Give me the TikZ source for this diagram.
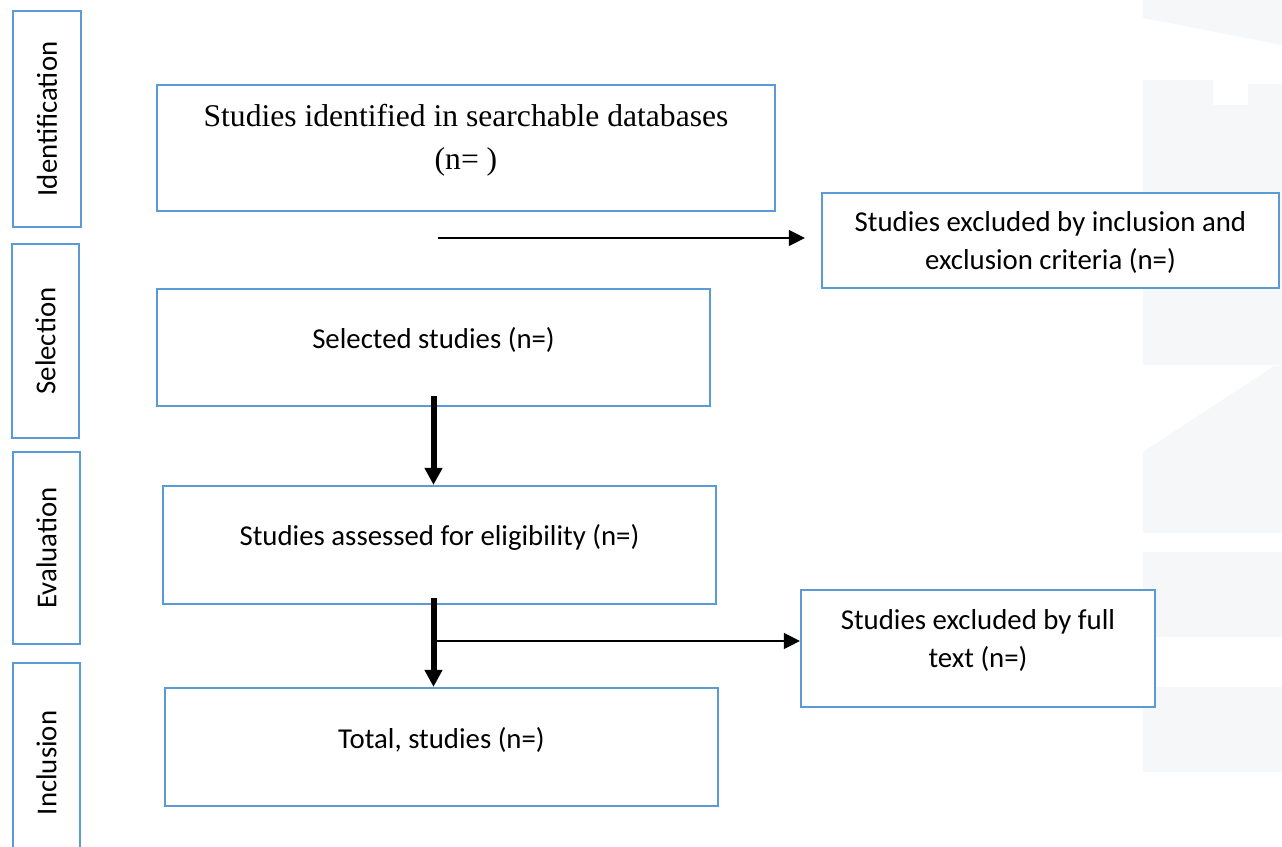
\documentclass[tikz,border=0pt]{standalone}
\usepackage{fontspec}
\setmainfont{Carlito}
\newfontfamily\seriffont{Liberation Serif}
\usepackage{tikz}
\usetikzlibrary{arrows.meta,calc,positioning}
\definecolor{boxblue}{RGB}{91,155,213}
\definecolor{wmark}{RGB}{246,247,249}
\tikzset{
  phasebox/.style={draw=boxblue,line width=1.1pt,fill=white,inner sep=0pt,
                   font=\fontsize{14.4}{19}\selectfont},
  stagebox/.style={draw=boxblue,line width=1.1pt,fill=white,inner sep=0pt},
  boxtext/.style={align=center,inner sep=0pt,font=\fontsize{14.4}{19}\selectfont},
  thinarrow/.style={line width=0.7pt,-{Triangle[length=8pt,width=8pt]}},
  thickarrow/.style={line width=3pt,-{Triangle[length=8.5pt,width=8.5pt]}},
}
\begin{document}
\begin{tikzpicture}[x=0.5pt,y=0.5pt]
%
  \useasboundingbox (0,0) rectangle (1282,847);
  \clip (0,0) rectangle (1282,847);
%
  \fill[wmark] (1143,847) -- (1282,847) -- (1282,802) -- (1143,829) -- cycle;
  \fill[wmark] (1143,767) -- (1213,767) -- (1213,742) -- (1248,742) -- (1248,763)
               -- (1282,763) -- (1282,482) -- (1143,482) -- cycle;
  \fill[wmark] (1143,395) -- (1274,481) -- (1282,481) -- (1282,314) -- (1143,314) -- cycle;
  \fill[wmark] (1143,210) rectangle (1282,295);
  \fill[wmark] (1143,75) rectangle (1282,160);
%
  \node[phasebox,minimum width=34pt,minimum height=108pt] (pid) at (47,728)
    {\rotatebox{90}{Identification}};
  \node[phasebox,minimum width=33.5pt,minimum height=97pt] (psel) at (45.5,506)
    {\rotatebox{90}{Selection}};
  \node[phasebox,minimum width=33.5pt,minimum height=96pt] (peva) at (46.5,299)
    {\rotatebox{90}{Evaluation}};
  \node[phasebox,minimum width=33.5pt,minimum height=100pt] (pinc) at (46.5,84)
    {\rotatebox{90}{Inclusion}};
%
  \node[stagebox,minimum width=309pt,minimum height=63pt] (ident) at (466,699) {};
  \node[stagebox,minimum width=228.5pt,minimum height=47.5pt] (excl1) at (1050.5,606.5) {};
  \node[stagebox,minimum width=276.5pt,minimum height=58.5pt] (sel) at (433.5,499.5) {};
  \node[stagebox,minimum width=276.5pt,minimum height=59pt] (eva) at (439.5,302) {};
  \node[stagebox,minimum width=177pt,minimum height=58.5pt] (excl2) at (978,198.5) {};
  \node[stagebox,minimum width=276.5pt,minimum height=59pt] (tot) at (441.5,100) {};
%
  \node[boxtext,font=\seriffont\fontsize{15.8}{21.5}\selectfont] (identtxt)
    at ($(ident.north)+(0,-56)$) {Studies identified in searchable databases\\(n= )};
  \node[boxtext] (excl1txt) at ($(excl1.north)+(0,-51)$)
    {Studies excluded by inclusion and\\exclusion criteria (n=)};
  \node[boxtext] (seltxt) at ($(sel.north)+(0,-52)$) {Selected studies (n=)};
  \node[boxtext] (evatxt) at ($(eva.north)+(0,-53)$) {Studies assessed for eligibility (n=)};
  \node[boxtext] (excl2txt) at ($(excl2.north)+(0,-52)$) {Studies excluded by full\\text (n=)};
  \node[boxtext] (tottxt) at ($(tot.north)+(0,-53)$) {Total, studies (n=)};
%
  \coordinate (a1) at (438,609);
  \coordinate (b3) at ($(sel.south |- eva.south)+(0,7)$);
  \coordinate (a4) at (437,206);
%
  \draw[thinarrow,shorten >=8pt] (a1) -- (a1 -| excl1.west);
  \draw[thickarrow] ($(sel.south)+(0,11)$) -- (sel.south |- eva.north);
  \draw[thickarrow] (b3) -- (b3 |- tot.north);
  \draw[thinarrow] (a4) -- (a4 -| excl2.west);
%
\end{tikzpicture}
\end{document}
